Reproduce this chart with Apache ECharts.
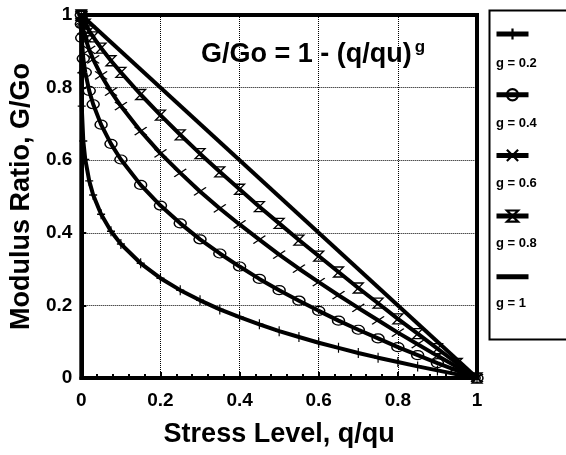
<!DOCTYPE html>
<html><head><meta charset="utf-8">
<script src="https://cdn.jsdelivr.net/npm/echarts@6/dist/echarts.min.js"></script>
<style>html,body{margin:0;padding:0;background:#fff}#c{width:566px;height:455px}</style>
</head><body><div id="c"></div>
<script>
// Stress level q/qu (x) sample points
var xs = [0, 0.0001, 0.001, 0.005, 0.01, 0.02, 0.03, 0.05, 0.075, 0.1, 0.15, 0.2, 0.25, 0.3, 0.35, 0.4, 0.45, 0.5, 0.55, 0.6, 0.65, 0.7, 0.75, 0.8, 0.85, 0.9, 0.95, 1];
// Modulus ratio G/Go read for each curve
var g02 = [1, 0.841, 0.749, 0.653, 0.602, 0.543, 0.504, 0.451, 0.404, 0.369, 0.316, 0.275, 0.242, 0.214, 0.189, 0.168, 0.148, 0.129, 0.113, 0.097, 0.083, 0.069, 0.056, 0.044, 0.032, 0.021, 0.010, 0];
var g04 = [1, 0.975, 0.937, 0.880, 0.842, 0.791, 0.754, 0.698, 0.645, 0.602, 0.532, 0.475, 0.426, 0.382, 0.343, 0.307, 0.273, 0.242, 0.213, 0.185, 0.158, 0.133, 0.109, 0.085, 0.063, 0.041, 0.020, 0];
var g06 = [1, 0.996, 0.984, 0.958, 0.937, 0.904, 0.878, 0.834, 0.789, 0.749, 0.680, 0.619, 0.565, 0.514, 0.467, 0.423, 0.381, 0.340, 0.301, 0.264, 0.228, 0.193, 0.159, 0.125, 0.093, 0.061, 0.030, 0];
var g08 = [1, 0.999, 0.996, 0.986, 0.975, 0.956, 0.940, 0.909, 0.874, 0.842, 0.781, 0.724, 0.670, 0.618, 0.568, 0.520, 0.472, 0.426, 0.380, 0.336, 0.292, 0.248, 0.206, 0.163, 0.122, 0.081, 0.040, 0];
var g1x = [0, 1];
var g1 = [1, 0];
var seriesNames = ['g = 0.2', 'g = 0.4', 'g = 0.6', 'g = 0.8', 'g = 1'];

function pairs(x, y) { return x.map(function (v, i) { return [v, y[i]]; }); }

var font = '"Liberation Sans", Arial, sans-serif';
var markerStyle = { color: 'rgba(0,0,0,0)', borderColor: '#000', borderWidth: 1.3 };
function mk(name, data, symbol, size) {
  return {
    name: name, type: 'line', data: data, symbol: symbol, symbolSize: size,
    showSymbol: symbol !== 'none', showAllSymbol: true, animation: false,
    lineStyle: { color: '#000', width: 4 }, itemStyle: markerStyle
  };
}

var iconLegendData = seriesNames.map(function (n, i) {
  if (i === seriesNames.length - 1) {
    return { name: n, itemStyle: { color: 'rgba(0,0,0,0)', borderColor: 'rgba(0,0,0,0)', opacity: 0 } };
  }
  return { name: n };
});

var chart = echarts.init(document.getElementById('c'));
chart.setOption({
  backgroundColor: '#fff',
  animation: false,
  title: {
    text: 'G/Go = 1 - (q/qu){s|g}', left: 196, top: 34,
    textStyle: { fontFamily: font, fontSize: 27, fontWeight: 'bold', color: '#000',
      rich: { s: { fontFamily: font, fontSize: 17, fontWeight: 'bold', verticalAlign: 'top', padding: [0, 0, 15, 3] } } }
  },
  grid: { left: 80, right: 89, top: 15, bottom: 77, show: true, borderColor: '#000', borderWidth: 4, containLabel: false },
  xAxis: {
    type: 'value', min: 0, max: 1, interval: 0.2,
    name: 'Stress Level, q/qu', nameLocation: 'middle', nameGap: 43,
    nameTextStyle: { fontFamily: font, fontSize: 27, fontWeight: 'bold', color: '#000' },
    axisLine: { lineStyle: { color: '#000', width: 4 } },
    axisTick: { show: true, inside: true, length: 6, lineStyle: { color: '#000', width: 2 } },
    minorTick: { show: true, splitNumber: 5, length: 4, lineStyle: { color: '#000', width: 2 } },
    axisLabel: { fontFamily: font, fontSize: 19, fontWeight: 'bold', color: '#000', margin: 13 },
    splitLine: { show: true, lineStyle: { color: '#000', type: 'dotted', width: 1 } }
  },
  yAxis: {
    type: 'value', min: 0, max: 1, interval: 0.2,
    name: 'Modulus Ratio, G/Go', nameLocation: 'middle', nameGap: 39,
    nameTextStyle: { fontFamily: font, fontSize: 27, fontWeight: 'bold', color: '#000' },
    axisLine: { show: true, lineStyle: { color: '#000', width: 4 } },
    axisTick: { show: true, inside: true, length: 5, lineStyle: { color: '#000', width: 2 } },
    axisLabel: { fontFamily: font, fontSize: 19, fontWeight: 'bold', color: '#000', margin: 9 },
    splitLine: { show: true, lineStyle: { color: '#000', type: 'dotted', width: 1 } }
  },
  legend: [
    {
      data: iconLegendData, orient: 'vertical', left: 494, top: 27, itemGap: 47,
      itemWidth: 32, itemHeight: 14, formatter: function () { return ''; },
      lineStyle: { color: '#000', width: 5 },
      itemStyle: { borderWidth: 2.2, borderColor: '#000' },
      textStyle: { fontSize: 1 }, padding: 0
    },
    {
      data: seriesNames, orient: 'vertical', left: 495, top: 55, itemGap: 44,
      itemWidth: 0, itemHeight: 14, icon: 'rect', itemStyle: { opacity: 0 }, padding: 0,
      textStyle: { fontFamily: font, fontSize: 13, fontWeight: 'bold', color: '#000', padding: [0, 0, 0, -5] }
    }
  ],
  graphic: [{ type: 'rect', left: 487, top: 8, shape: { width: 100, height: 329 },
    style: { fill: 'none', stroke: '#000', lineWidth: 2 }, silent: true, z: 100 }],
  series: [
    mk(seriesNames[0], pairs(xs, g02), 'path://M5,0 L5,10 M0,5 L10,5', [8, 10]),
    mk(seriesNames[1], pairs(xs, g04), 'circle', [12, 9]),
    mk(seriesNames[2], pairs(xs, g06), 'path://M0,0 L10,10 M10,0 L0,10', [12, 8]),
    mk(seriesNames[3], pairs(xs, g08), 'path://M0,0 L10,0 L0,10 L10,10 Z', [10, 10]),
    mk(seriesNames[4], pairs(g1x, g1), 'none', 0)
  ]
});
</script></body></html>
